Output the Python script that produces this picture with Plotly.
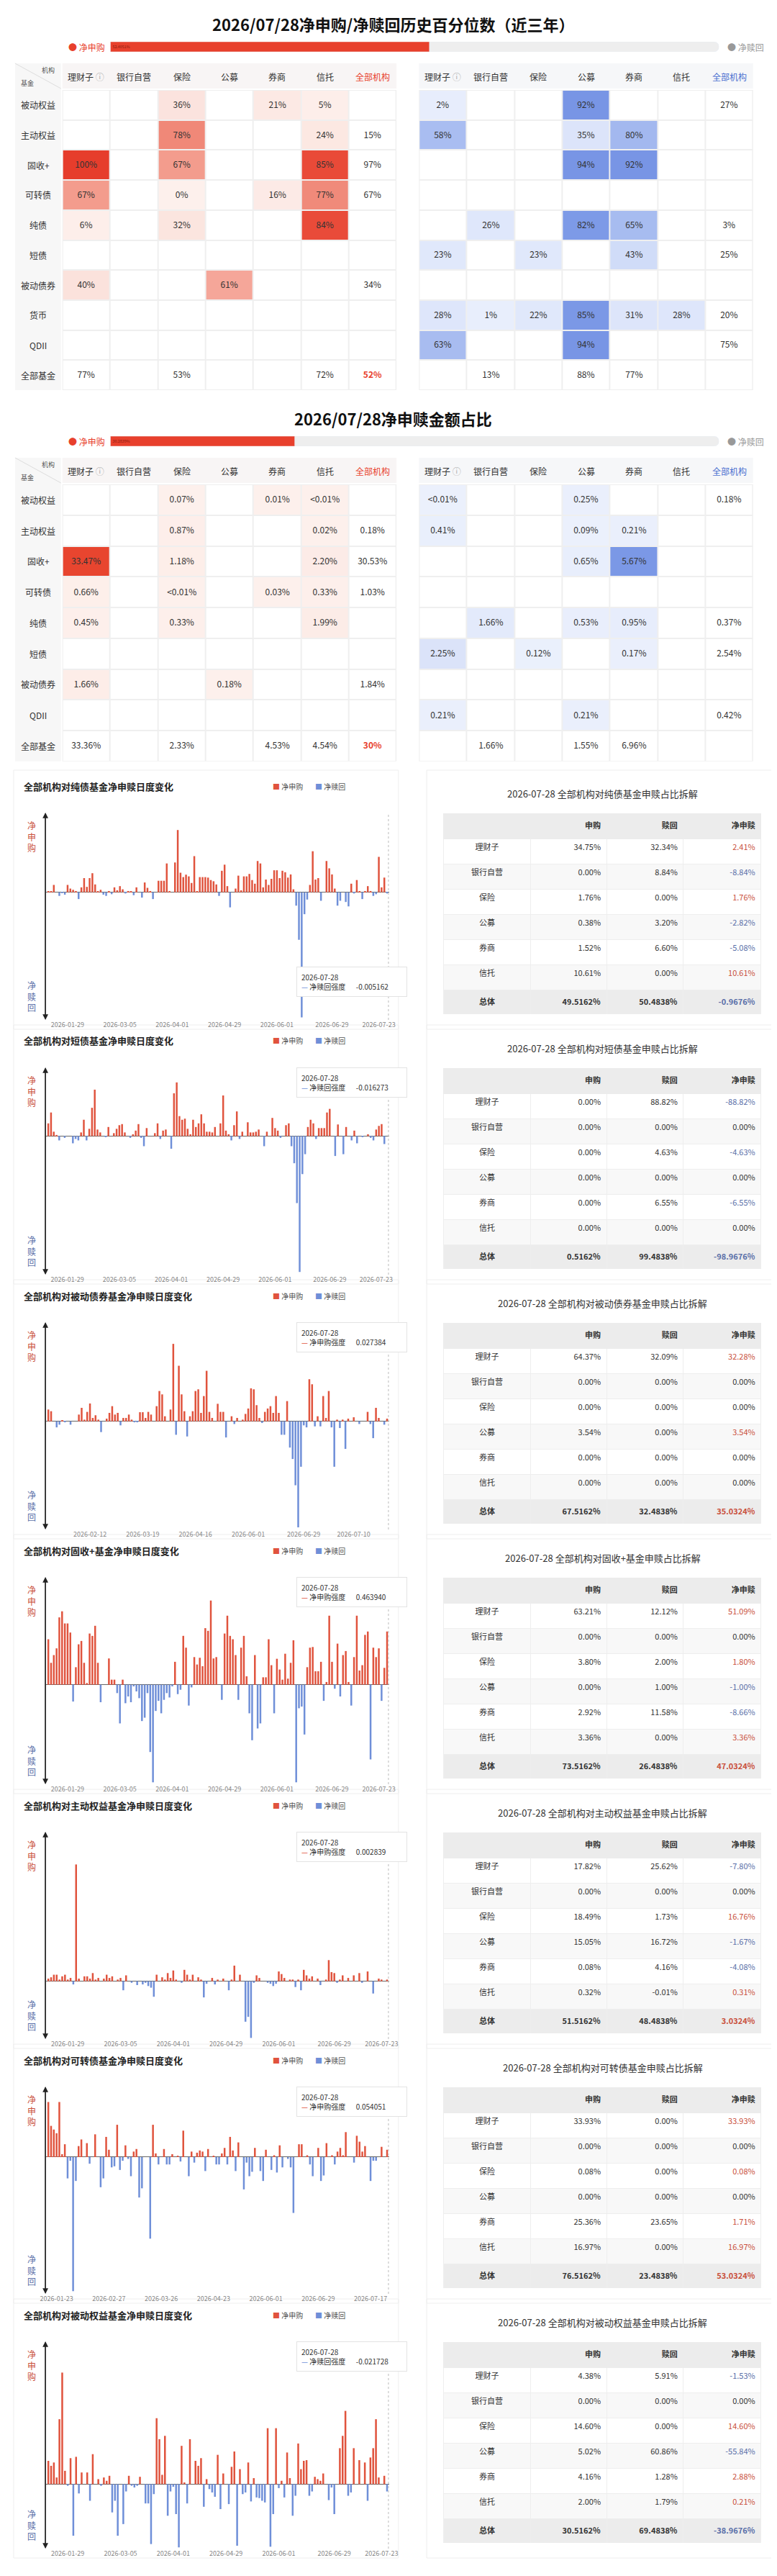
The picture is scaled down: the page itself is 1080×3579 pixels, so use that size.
import plotly.graph_objects as go

W, H = 1080, 3579
FONT = "Noto Sans CJK SC"
RED, BLUE = "#e0533d", "#6f8fd8"

# ---------------- data: percentile grid ----------------
institutions = ["理财子", "银行自营", "保险", "公募", "券商", "信托", "全部机构"]
rows_pct = ["被动权益", "主动权益", "固收+", "可转债", "纯债", "短债", "被动债券", "货币", "QDII", "全部基金"]
pct_buy = [
    ["", "", "36%", "", "21%", "5%", ""],
    ["", "", "78%", "", "", "24%", "15%"],
    ["100%", "", "67%", "", "", "85%", "97%"],
    ["67%", "", "0%", "", "16%", "77%", "67%"],
    ["6%", "", "32%", "", "", "84%", ""],
    ["", "", "", "", "", "", ""],
    ["40%", "", "", "61%", "", "", "34%"],
    ["", "", "", "", "", "", ""],
    ["", "", "", "", "", "", ""],
    ["77%", "", "53%", "", "", "72%", "52%"],
]
pct_sell = [
    ["2%", "", "", "92%", "", "", "27%"],
    ["58%", "", "", "35%", "80%", "", ""],
    ["", "", "", "94%", "92%", "", ""],
    ["", "", "", "", "", "", ""],
    ["", "26%", "", "82%", "65%", "", "3%"],
    ["23%", "", "23%", "", "43%", "", "25%"],
    ["", "", "", "", "", "", ""],
    ["28%", "1%", "22%", "85%", "31%", "28%", "20%"],
    ["63%", "", "", "94%", "", "", "75%"],
    ["", "13%", "", "88%", "77%", "", ""],
]
net_buy_pct_bar = 52.4051

# ---------------- data: amount share grid ----------------
rows_amt = ["被动权益", "主动权益", "固收+", "可转债", "纯债", "短债", "被动债券", "QDII", "全部基金"]
amt_buy = [
    ["", "", "0.07%", "", "0.01%", "<0.01%", ""],
    ["", "", "0.87%", "", "", "0.02%", "0.18%"],
    ["33.47%", "", "1.18%", "", "", "2.20%", "30.53%"],
    ["0.66%", "", "<0.01%", "", "0.03%", "0.33%", "1.03%"],
    ["0.45%", "", "0.33%", "", "", "1.99%", ""],
    ["", "", "", "", "", "", ""],
    ["1.66%", "", "", "0.18%", "", "", "1.84%"],
    ["", "", "", "", "", "", ""],
    ["33.36%", "", "2.33%", "", "4.53%", "4.54%", "30%"],
]
amt_sell = [
    ["<0.01%", "", "", "0.25%", "", "", "0.18%"],
    ["0.41%", "", "", "0.09%", "0.21%", "", ""],
    ["", "", "", "0.65%", "5.67%", "", ""],
    ["", "", "", "", "", "", ""],
    ["", "1.66%", "", "0.53%", "0.95%", "", "0.37%"],
    ["2.25%", "", "0.12%", "", "0.17%", "", "2.54%"],
    ["", "", "", "", "", "", ""],
    ["0.21%", "", "", "0.21%", "", "", "0.42%"],
    ["", "1.66%", "", "1.55%", "6.96%", "", ""],
]
net_buy_amt_bar = 30.2839

# ---------------- data: daily bars (relative heights) ----------------
fund_names = ["纯债", "短债", "被动债券", "固收+", "主动权益", "可转债", "被动权益"]
pure_bond = [2, 2, 30, 0, -15, -3, -10, 30, 15, 10, 5, -28, 20, 58, 22, 58, 78, 32, 5, 10, -10, -15, 5, -8, 20, 8, 25, 12, -5, 5, 3, -12, 20, 0, -22, 40, 18, 5, -28, 0, 47, 47, 47, 118, 5, 0, 122, 255, 80, 62, 72, 65, 38, 148, 5, 62, 62, 62, 60, 50, 45, 32, -15, 88, 113, 25, -62, 0, 15, 68, 8, 65, 65, 75, 50, 35, 128, 118, 20, 52, 30, 55, 90, 90, 58, 88, 82, 60, 73, 12, -55, -195, -513, -90, -30, 30, 168, 52, 58, -35, 0, 128, 98, 73, 15, -55, -35, 0, -40, -58, 35, -5, 50, 5, -28, 5, 25, 5, -15, -8, 145, 20, 60, -5]
short_bond = [35, 65, 12, 3, -12, 0, -5, 0, 0, -20, -8, -12, 10, 45, -12, 20, 78, 128, 18, 10, 0, -3, 25, 0, 8, 20, 30, 33, 10, 0, -5, 5, 15, 33, -5, -28, 22, 0, 0, 8, 35, -8, 15, 18, 0, -35, 118, 148, 55, 45, 48, 20, 5, 45, 25, 35, 60, 35, 12, 12, 10, 25, 0, 35, 112, 15, 5, -12, 30, 68, -8, 12, 0, 38, 10, 10, 12, 18, 0, -28, 12, 0, 50, 22, 15, -5, 0, 30, 35, -28, -75, -185, -375, -105, -50, 25, 45, 35, -8, 22, 22, 22, 65, 75, 0, -55, 32, 0, -50, 25, 0, -12, 15, -20, 0, -3, 0, 5, -5, -12, 18, 28, 33, -22, 0]
passive_bond = [35, 30, 0, -18, -10, 3, -3, 0, -10, 0, 0, 20, 40, 5, 28, 53, 10, 18, 5, -32, 0, 8, 25, 45, 20, 25, -12, 10, 10, 20, 5, -3, -3, 27, 27, 10, 28, 20, 0, 45, 90, 80, 15, 0, 35, 230, -40, 165, 80, 30, -45, 15, 30, 90, 95, 25, 75, 150, 28, 10, 0, 52, 28, 28, -48, 0, 15, -8, 10, 0, 5, 22, 38, 98, 95, 48, 10, -5, 28, 38, 45, 25, 75, 25, -40, -40, 60, -78, -112, -190, -315, -135, -12, -18, 125, 110, -15, 15, -15, 75, 10, 90, -18, -135, 5, -20, 5, -82, 8, 0, 12, 0, -8, 0, 0, 28, -8, -50, 40, 10, 0, -10, 8]
fixed_plus = [135, 65, 88, 108, 200, 218, 182, 182, 155, -50, 52, 120, 130, 65, 5, 152, 145, 175, 65, -52, 0, 0, 78, 15, 15, -25, -115, 15, -55, -35, -52, -5, -20, -40, -108, -98, -25, -200, -290, -78, -48, -85, -45, -25, -38, -5, 68, -28, -15, 145, 110, -62, -8, 82, 60, 80, 55, 168, 160, 250, 78, 82, 0, -45, 152, 205, 145, 135, 88, -45, 110, 145, 25, -85, -165, 88, -130, -115, 22, 22, 135, 58, -85, 77, 45, 15, 92, 18, 65, 132, -290, -70, -65, -148, 52, 110, 112, 40, 40, 68, -48, 8, 205, 68, -12, 122, -35, 88, 100, 8, -62, 82, 205, 42, 58, 148, 158, -222, 110, 82, 108, -48, 50, 158]
active_equity = [8, 12, 20, 20, 5, 15, 20, 5, 10, -10, 360, 8, 0, 15, 15, 8, 25, 5, 10, 0, 8, 20, 10, 15, 0, 5, 10, -28, 18, 0, -5, 0, -12, 0, -10, -5, -15, -20, -48, 20, 0, 12, 5, 25, 10, 33, 5, 0, -5, 35, 20, 5, 20, 0, 12, 5, -50, -8, 0, 10, -10, 5, 0, 8, 0, -28, 5, 48, 0, 20, 0, -125, -110, -175, -5, 18, 10, 0, 0, -5, -8, -15, -8, 30, 22, 10, 0, 5, 5, -18, 5, -28, 35, 18, 8, 15, 0, 8, -12, 0, 5, 65, 28, 25, -5, 5, 18, 0, 10, 0, 18, 0, 25, -5, 0, 30, 0, -38, 0, 8, 5, 0, 5]
convertible = [150, 85, 75, 65, 150, 8, 35, -58, -10, -365, -65, 30, 48, 0, 38, -18, 0, 62, 0, -82, -58, 55, 20, -28, -25, 88, -35, -10, 32, -5, -52, 15, 22, -110, -85, 0, 0, -222, 88, 10, -20, 0, 22, -20, -20, 8, 0, 3, -12, 72, 0, -52, 15, -15, 12, 18, 15, -38, 22, 0, 3, -20, -20, 10, 25, -20, 55, 18, -38, 40, 0, -88, -15, -52, -40, 25, 0, -38, -65, 20, 0, -35, 5, -42, 32, -28, 0, -5, -28, -152, 0, 35, 35, 0, 5, -20, -52, 0, 25, -65, -50, 38, 0, 5, -20, 15, 25, 5, 68, 0, 0, -15, 58, 42, 15, 30, 0, -65, -10, -10, 0, 28, 0, 20]
passive_equity = [70, 55, 65, 20, 195, 335, 40, -5, 78, -155, 82, -28, 35, 0, 35, -50, 90, 0, 15, -5, 20, 10, 25, -85, -50, -155, 0, -120, -22, 25, -5, -10, -5, 22, 0, -58, -58, -180, -30, 198, 135, 28, 145, -95, -22, -8, -90, -190, 115, 5, -58, 135, 0, 70, 55, 78, -68, 15, -15, -25, -38, 88, -75, 32, 0, -60, 52, 98, -185, 45, -30, -25, 65, -52, 18, -40, -42, -50, -55, 168, -188, -90, 168, -12, 10, -40, 95, 18, -95, -35, 122, 45, 70, 72, -35, -22, 22, 15, 10, 32, 0, -48, -10, -90, 0, 108, 145, 220, -35, -25, 108, 0, 72, 0, 65, -50, 80, 108, 195, 20, 0, 25, -22]
daily_series = [pure_bond, short_bond, passive_bond, fixed_plus, active_equity, convertible, passive_equity]

ticks_std = ["2026-01-29", "2026-03-05", "2026-04-01", "2026-04-29", "2026-06-01", "2026-06-29", "2026-07-23"]
tick_labels = [ticks_std, ticks_std,
               ["2026-02-12", "2026-03-19", "2026-04-16", "2026-06-01", "2026-06-29", "2026-07-10"],
               ticks_std, ticks_std,
               ["2026-01-23", "2026-02-27", "2026-03-26", "2026-04-23", "2026-06-01", "2026-06-29", "2026-07-17"],
               ticks_std]
tick_index = [[7, 26, 45, 64, 83, 103, 120], [7, 26, 45, 64, 83, 103, 120],
              [15, 34, 53, 72, 92, 110],
              [7, 26, 45, 64, 83, 103, 120], [7, 26, 45, 64, 83, 103, 120],
              [3, 22, 41, 60, 79, 98, 117], [7, 26, 45, 64, 83, 103, 120]]
latest_date = "2026-07-28"
latest_value = [-0.005162, -0.016273, 0.027384, 0.463940, 0.002839, 0.054051, -0.021728]

# ---------------- data: breakdown tables ----------------
table_rows = ["理财子", "银行自营", "保险", "公募", "券商", "信托", "总体"]
sub_share = [
    [34.75, 0.00, 1.76, 0.38, 1.52, 10.61, 49.5162],
    [0.00, 0.00, 0.00, 0.00, 0.00, 0.00, 0.5162],
    [64.37, 0.00, 0.00, 3.54, 0.00, 0.00, 67.5162],
    [63.21, 0.00, 3.80, 0.00, 2.92, 3.36, 73.5162],
    [17.82, 0.00, 18.49, 15.05, 0.08, 0.32, 51.5162],
    [33.93, 0.00, 0.08, 0.00, 25.36, 16.97, 76.5162],
    [4.38, 0.00, 14.60, 5.02, 4.16, 2.00, 30.5162],
]
red_share = [
    [32.34, 8.84, 0.00, 3.20, 6.60, 0.00, 50.4838],
    [88.82, 0.00, 4.63, 0.00, 6.55, 0.00, 99.4838],
    [32.09, 0.00, 0.00, 0.00, 0.00, 0.00, 32.4838],
    [12.12, 0.00, 2.00, 1.00, 11.58, 0.00, 26.4838],
    [25.62, 0.00, 1.73, 16.72, 4.16, -0.01, 48.4838],
    [0.00, 0.00, 0.00, 0.00, 23.65, 0.00, 23.4838],
    [5.91, 0.00, 0.00, 60.86, 1.28, 1.79, 69.4838],
]
net_share = [
    [2.41, -8.84, 1.76, -2.82, -5.08, 10.61, -0.9676],
    [-88.82, 0.00, -4.63, 0.00, -6.55, 0.00, -98.9676],
    [32.28, 0.00, 0.00, 3.54, 0.00, 0.00, 35.0324],
    [51.09, 0.00, 1.80, -1.00, -8.66, 3.36, 47.0324],
    [-7.80, 0.00, 16.76, -1.67, -4.08, 0.31, 3.0324],
    [33.93, 0.00, 0.08, 0.00, 1.71, 16.97, 53.0324],
    [-1.53, 0.00, 14.60, -55.84, 2.88, 0.21, -38.9676],
]

# ---------------- helpers ----------------
def px(p):
    return p / W


def py(p):
    return 1 - p / H


fig = go.Figure()
layout = {}
shapes = []
annotations = []
axis_n = [0]


def new_axes(x0, x1, y0, y1):
    axis_n[0] += 1
    n = axis_n[0]
    layout[f"xaxis{n}"] = dict(domain=[px(x0), px(x1)], anchor=f"y{n}")
    layout[f"yaxis{n}"] = dict(domain=[py(y1), py(y0)], anchor=f"x{n}")
    return n, (f"x{n}" if n > 1 else "x"), (f"y{n}" if n > 1 else "y")


def text(x, y, s, size=12, color="#333", xanchor="center", **kw):
    annotations.append(dict(x=px(x), y=py(y), xref="paper", yref="paper", text=s, showarrow=False,
                            font=dict(size=size, color=color, family=FONT), xanchor=xanchor,
                            yanchor="middle", **kw))


def rect(x0, y0, x1, y1, fill, line=None, layer="below"):
    shapes.append(dict(type="rect", xref="paper", yref="paper", x0=px(x0), x1=px(x1), y0=py(y1), y1=py(y0),
                       fillcolor=fill, line=dict(width=1 if line else 0, color=line or fill), layer=layer))


def parse(s):
    if s == "":
        return None
    s = s.replace("%", "")
    if s.startswith("<"):
        return float(s[1:]) / 2
    return float(s)


def progress(y, value):
    n, xa, ya = new_axes(140, 1002, y - 7, y + 7)
    fig.add_trace(go.Bar(x=[100], y=[0], orientation="h", marker=dict(color="#eeeeee", cornerradius=7),
                         xaxis=xa, yaxis=ya, hoverinfo="skip", width=1))
    fig.add_trace(go.Bar(x=[value], y=[0], orientation="h", marker=dict(color="#e8402c", cornerradius=7),
                         text=[f"{value:.4f}%"], textposition="inside", insidetextanchor="start",
                         textfont=dict(size=10, color="#8a1c10"), xaxis=xa, yaxis=ya, width=1))
    layout[f"xaxis{n}"].update(range=[0, 100], visible=False)
    layout[f"yaxis{n}"].update(range=[-0.5, 0.5], visible=False)
    text(78, y, "<span style='color:#e8402c'>●</span> 净申购", 12, "#e8402c", "left")
    text(1012, y, "<span style='color:#999'>●</span> 净赎回", 12, "#999", "left")


def grid(x0, y_head, y0, row_h, rows, cells, scale, norm, side):
    ncol, nrow = len(institutions), len(rows)
    col_w = 67.6
    x1 = x0 + col_w * ncol
    y1 = y0 + row_h * nrow
    rect(x0, y0, x1, y1, "#efefef")
    rect(x0, y_head, x1, y0 - 2, "#f8f5f5" if side == "buy" else "#f6f7f9")
    inner = [parse(c) for r in cells[:-1] for c in r[:-1] if parse(c) is not None]
    top = norm if norm else max(inner)
    z, t = [], []
    for ri, r in enumerate(cells):
        zr, tr = [], []
        for ci, c in enumerate(r):
            v = parse(c)
            summary = ri == nrow - 1 or ci == ncol - 1
            zr.append(0 if (v is None or summary) else max(v / top, 0.0001))
            if ri == nrow - 1 and ci == ncol - 1 and c:
                c = f"<b><span style='color:#e8402c'>{c}</span></b>"
            tr.append(c)
        z.append(zr)
        t.append(tr)
    n, xa, ya = new_axes(x0, x1, y0, y1)
    fig.add_trace(go.Heatmap(z=z, text=t, texttemplate="%{text}", x=list(range(ncol)), y=list(range(nrow)),
                             colorscale=scale, zmin=0, zmax=1, showscale=False, xgap=2, ygap=2,
                             textfont=dict(size=12, color="#333", family=FONT), xaxis=xa, yaxis=ya,
                             hoverinfo="skip"))
    layout[f"xaxis{n}"].update(visible=False, range=[-0.5, ncol - 0.5])
    layout[f"yaxis{n}"].update(visible=False, range=[nrow - 0.5, -0.5])
    for ci, name in enumerate(institutions):
        cx = x0 + col_w * (ci + 0.5)
        color = "#333"
        if ci == ncol - 1:
            color = "#e8402c" if side == "buy" else "#4a6fd0"
        label = name + (" <span style='color:#aaa'>ⓘ</span>" if ci == 0 else "")
        text(cx, (y_head + y0) / 2, label, 12, color)
    if side == "buy":
        rect(5, y_head, x0 - 2, y1, "#f7f7f7")
        shapes.append(dict(type="line", xref="paper", yref="paper", x0=px(5), y0=py(y_head),
                           x1=px(x0 - 2), y1=py(y0 - 2), line=dict(color="#ddd", width=1)))
        text(52, y_head + 10, "机构", 9, "#555")
        text(22, y0 - 10, "基金", 9, "#555")
        for ri, name in enumerate(rows):
            text(38, y0 + row_h * (ri + 0.5), name, 12, "#333")


red_scale = [[0, "#ffffff"], [0.0001, "#fdf0ec"], [0.4, "#fbe2dc"], [0.6, "#f5a89b"], [0.78, "#f08878"],
             [0.84, "#e94b39"], [1, "#e63d2c"]]
blue_scale = [[0, "#ffffff"], [0.0001, "#e8eefc"], [0.4, "#dae3fa"], [0.55, "#aabef1"], [0.8, "#a3b8ef"],
              [0.81, "#7d9ae7"], [1, "#7592e4"]]
red_scale2 = [[0, "#ffffff"], [0.0001, "#fdf0ec"], [0.1, "#fce9e4"], [1, "#e8452f"]]
blue_scale2 = [[0, "#ffffff"], [0.0001, "#ebf0fc"], [0.35, "#e2e9fb"], [1, "#7b98e6"]]

# ---------------- top section ----------------
text(540, 25, "<b>2026/07/28净申购/净赎回历史百分位数（近三年）</b>", 22, "#111")
progress(57, net_buy_pct_bar)
grid(72, 80, 117, 41.7, rows_pct, pct_buy, red_scale, 100, "buy")
grid(577, 80, 117, 41.7, rows_pct, pct_sell, blue_scale, 100, "sell")

text(540, 573, "<b>2026/07/28净申赎金额占比</b>", 22, "#111")
progress(605, net_buy_amt_bar)
grid(72, 628, 665, 42.75, rows_amt, amt_buy, red_scale2, None, "buy")
grid(577, 628, 665, 42.75, rows_amt, amt_sell, blue_scale2, None, "sell")

# ---------------- daily panels ----------------
for k, name in enumerate(fund_names):
    T = 1084 + 354 * k
    vals = daily_series[k]
    rect(3, T - 22, 548, T + 338, "rgba(0,0,0,0)", "#eeeeee")
    rect(588, T - 22, 1077, T + 338, "rgba(0,0,0,0)", "#eeeeee")
    text(15, T, f"<b>全部机构对{name}基金净申赎日度变化</b>", 13, "#222", "left")
    text(368, T, f"<span style='color:{RED}'>■</span> 净申购", 10, "#555", "left")
    text(428, T, f"<span style='color:{BLUE}'>■</span> 净赎回", 10, "#555", "left")

    n, xa, ya = new_axes(49, 535, T + 37, T + 325)
    fig.add_trace(go.Bar(x=list(range(len(vals))), y=vals,
                         marker=dict(color=[RED if v >= 0 else BLUE for v in vals], line=dict(width=0)),
                         xaxis=xa, yaxis=ya, hoverinfo="skip"))
    lo, hi = min(vals), max(vals)
    layout[f"xaxis{n}"].update(range=[-0.8, len(vals) - 0.2], tickvals=tick_index[k], ticktext=tick_labels[k],
                               tickfont=dict(size=9, color="#888"), showgrid=False, zeroline=False,
                               showline=False, ticks="")
    layout[f"yaxis{n}"].update(range=[lo * 1.02, hi * 1.28], showticklabels=False, showgrid=False,
                               zeroline=True, zerolinecolor="#666", zerolinewidth=1)
    shapes.append(dict(type="line", xref=xa, yref=f"{ya} domain", x0=len(vals) - 0.5, x1=len(vals) - 0.5,
                       y0=0, y1=1, line=dict(color="#bbb", width=1, dash="dot")))
    # arrow axis
    for yy, off in [(T + 37, 288), (T + 325, -288)]:
        annotations.append(dict(x=px(48), y=py(yy), xref="paper", yref="paper", ax=0, ay=off, text="",
                                showarrow=True, arrowhead=2, arrowsize=1.2, arrowwidth=1.3, arrowcolor="#222"))
    text(29, T + 70, "净<br>申<br>购", 12, "#c9503c")
    text(29, T + 292, "净<br>赎<br>回", 12, "#5a6fa8")
    v = latest_value[k]
    label = "净申购强度" if v >= 0 else "净赎回强度"
    lc = RED if v >= 0 else BLUE
    ty = T + 272 if k == 0 else T + 58
    annotations.append(dict(x=px(403), y=py(ty), xref="paper", yref="paper", xanchor="left", yanchor="middle",
                            showarrow=False, align="left", width=140, bgcolor="white", bordercolor="#e3e3e3",
                            borderwidth=1, borderpad=6,
                            text=f"{latest_date}<br><span style='color:{lc}'>—</span> {label}　  {v:.6f}",
                            font=dict(size=10, color="#333", family=FONT)))

    # breakdown table
    text(837, T + 10, f"{latest_date} 全部机构对{name}基金申赎占比拆解", 13, "#333")
    sub, red, net = sub_share[k], red_share[k], net_share[k]

    def fmt(vs):
        return [f"{x:.2f}%" for x in vs[:-1]] + [f"<b>{vs[-1]:.4f}%</b>"]

    net_col = ["#c9503c" if x > 0 else ("#5a6fa8" if x < 0 else "#333") for x in net]
    fills = ["white", "#f8f8f8", "white", "#f8f8f8", "white", "#f8f8f8", "#ececec"]
    fig.add_trace(go.Table(
        domain=dict(x=[px(612), px(1062)], y=[py(T + 318), py(T + 38)]),
        columnwidth=[123, 108, 109, 110],
        header=dict(values=["", "<b>申购</b>", "<b>赎回</b>", "<b>净申赎</b>"], fill_color="#ececec",
                    line_color="#ececec", align=["center", "right", "right", "right"], height=35,
                    font=dict(size=11, color="#333", family=FONT)),
        cells=dict(values=[table_rows[:-1] + ["<b>总体</b>"], fmt(sub), fmt(red), fmt(net)],
                   fill_color=[fills] * 4, line_color="#eeeeee", align=["center", "right", "right", "right"],
                   height=35, font=dict(size=11, family=FONT, color=[["#333"] * 7, ["#333"] * 7, ["#333"] * 7,
                                                                      net_col]))))

fig.update_layout(width=W, height=H, margin=dict(l=0, r=0, t=0, b=0), paper_bgcolor="white",
                  plot_bgcolor="white", showlegend=False, barmode="overlay", bargap=0.35,
                  font=dict(family=FONT), shapes=shapes, annotations=annotations, **layout)
fig.write_html("out.html")
